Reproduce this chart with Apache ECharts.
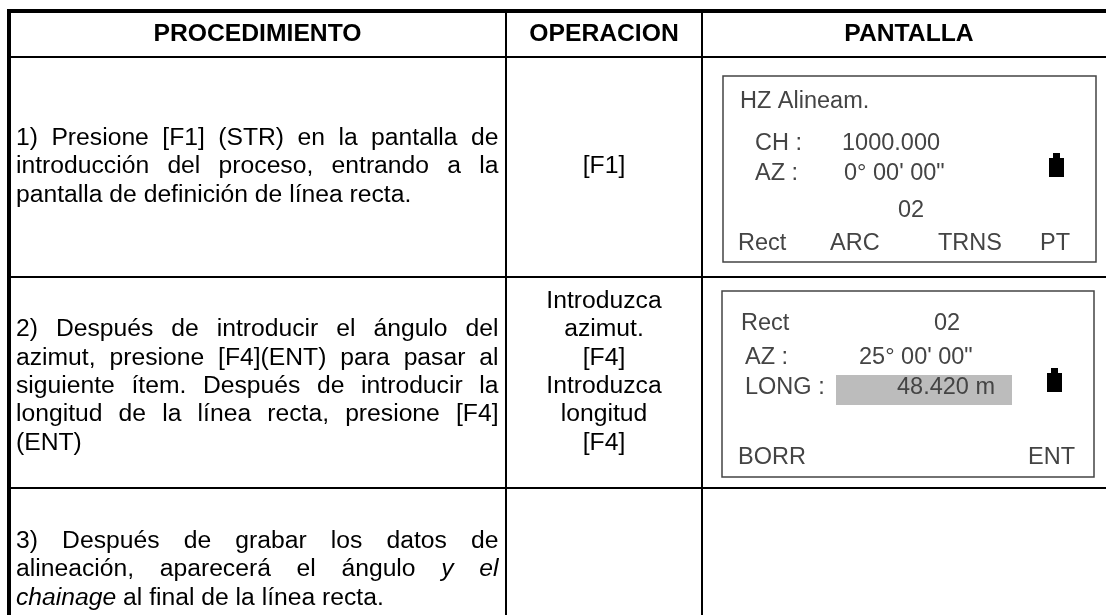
<!DOCTYPE html>
<html>
<head>
<meta charset="utf-8">
<script src="https://cdn.jsdelivr.net/npm/echarts@6/dist/echarts.min.js"></script>
<style>html,body{margin:0;padding:0;background:#fff}#c{width:1106px;height:615px}</style>
</head>
<body>
<div id="c"></div>
<script>
// ---- content ----
const headers = ['PROCEDIMIENTO', 'OPERACION', 'PANTALLA'];
const step1 = ['1) Presione [F1] (STR) en la pantalla de', 'introducción del proceso, entrando a la', 'pantalla de definición de línea recta.'];
const step2 = ['2) Después de introducir el ángulo del', 'azimut, presione [F4](ENT) para pasar al', 'siguiente ítem. Después de introducir la', 'longitud de la línea recta, presione [F4]', '(ENT)'];
const step3 = ['3) Después de grabar los datos de', 'alineación, aparecerá el ángulo y el', 'chainage al final de la línea recta.'];
const step3Italic = ['1:4', '1:5', '2:0'];
const op1 = ['[F1]'];
const op2 = ['Introduzca', 'azimut.', '[F4]', 'Introduzca', 'longitud', '[F4]'];
const screen1 = ['HZ Alineam.', 'CH :', '1000.000', 'AZ :', '0° 00\' 00"', '02', 'Rect', 'ARC', 'TRNS', 'PT'];
const screen2 = ['Rect', '02', 'AZ :', '25° 00\' 00"', 'LONG :', '48.420 m', 'BORR', 'ENT'];

// ---- layout ----
const FONT = '"Liberation Sans", Arial, sans-serif';
const SIZE = 24.7;
const SCR = 23.5;
const g = [];
const ctx = document.createElement('canvas').getContext('2d');
function rect(x, y, w, h, fill) { g.push({type:'rect', shape:{x,y,width:w,height:h}, style:{fill}, silent:true}); }
function frame(x, y, w, h, stroke) { g.push({type:'rect', shape:{x,y,width:w,height:h}, style:{fill:'none', stroke, lineWidth:1.5}, silent:true}); }
function text(t, x, y, o) {
  o = o || {};
  g.push({type:'text', x, y, silent:true, style:{text:t, x:0, y:0, fill:o.fill||'#000',
    font:(o.style||'')+' '+(o.weight||'')+' '+(o.size||SIZE)+'px '+FONT,
    textAlign:o.align||'left', textVerticalAlign:'middle'}});
}
function para(lines, y0, pitch, left, right, italics) {
  italics = italics || [];
  lines.forEach((line, i) => {
    const words = line.split(' ');
    const isIt = k => italics.includes(i + ':' + k);
    const widths = words.map((w, k) => { ctx.font = (isIt(k) ? 'italic ' : '') + SIZE + 'px ' + FONT; return ctx.measureText(w).width; });
    ctx.font = SIZE + 'px ' + FONT;
    const sp = ctx.measureText(' ').width;
    const total = widths.reduce((a, b) => a + b, 0);
    const gap = (i < lines.length - 1) ? (right - left - total) / (words.length - 1) : sp;
    let x = left;
    words.forEach((w, k) => {
      text(w, x, y0 + i * pitch, {style: isIt(k) ? 'italic' : ''});
      x += widths[k] + gap;
    });
  });
}
// table rules
const BLK = '#000';
rect(7, 9, 1099, 4, BLK);
rect(7, 9, 4, 606, BLK);
rect(505, 13, 2, 602, BLK);
rect(701, 13, 2, 602, BLK);
rect(7, 56, 1099, 2, BLK);
rect(7, 276, 1099, 2, BLK);
rect(7, 487, 1099, 2, BLK);
// headers
const colCentre = [257.5, 604, 909];
headers.forEach((h, i) => text(h, colCentre[i], 34, {weight:'bold', align:'center'}));
// procedure
const L = 16, R = 498.5, P = 28.35;
para(step1, 138, P, L, R);
para(step2, 329.5, P, L, R);
para(step3, 541, P, L, R, step3Italic);
// operation
op1.forEach((t, i) => text(t, colCentre[1], 166.5, {align:'center'}));
op2.forEach((t, i) => text(t, colCentre[1], 301 + i * P, {align:'center'}));
// screens
const scr = {size:SCR, fill:'#444'};
frame(723, 76, 373, 186, '#444');
frame(722, 291, 372, 186, '#444');
rect(836, 375, 176, 30, '#bcbcbc');
function battery(x, y) { rect(x, y + 5, 15, 19, '#000'); rect(x + 4, y, 7, 5, '#000'); }
battery(1049, 153);
battery(1047, 368);
const p1 = [[740,102],[755,144],[842,144],[755,174],[844,174],[898,211],[738,244],[830,244],[938,244],[1040,244]];
screen1.forEach((t, i) => text(t, p1[i][0], p1[i][1], scr));
const p2 = [[741,324],[934,324],[745,358],[859,358],[745,388],[897,388],[738,458],[1028,458]];
screen2.forEach((t, i) => text(t, p2[i][0], p2[i][1], scr));

const chart = echarts.init(document.getElementById('c'), null, {renderer:'canvas'});
chart.setOption({backgroundColor:'#fff', animation:false, graphic:{elements:g}});
</script>
</body>
</html>
